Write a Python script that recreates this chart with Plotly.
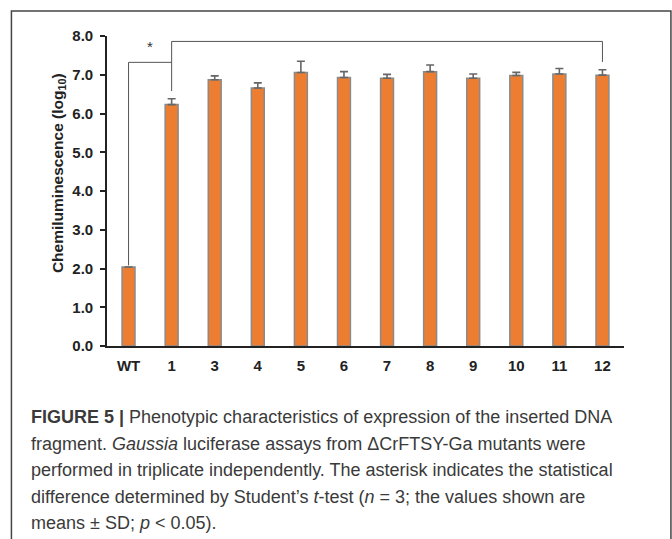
import plotly.graph_objects as go

# ---- data ----
categories = ["WT", "1", "3", "4", "5", "6", "7", "8", "9", "10", "11", "12"]
means = [2.04, 6.23, 6.87, 6.66, 7.06, 6.93, 6.91, 7.08, 6.91, 6.98, 7.02, 6.99]
sds = [0.0, 0.15, 0.10, 0.13, 0.29, 0.15, 0.10, 0.17, 0.11, 0.08, 0.14, 0.14]
y_ticks = [0, 1, 2, 3, 4, 5, 6, 7, 8]

# significance bracket levels (data units)
wt_bracket_low = 2.08
wt_bracket_top = 7.32
mut_bracket_low = 6.58
mut_bracket_top = 7.86
mut_bracket_end = 7.33
star_y = 7.72

caption_lines = [
    "<b>FIGURE 5 |</b> Phenotypic characteristics of expression of the inserted DNA",
    "fragment. <i>Gaussia</i> luciferase assays from \u0394CrFTSY-Ga mutants were",
    "performed in triplicate independently. The asterisk indicates the statistical",
    "difference determined by Student\u2019s <i>t</i>-test (<i>n</i> = 3; the values shown are",
    "means \u00b1 SD; <i>p</i> < 0.05).",
]

# ---- layout geometry (pixels) ----
FW, FH = 672, 539
L, R = 107, 623.6
T, B = 36, 345.7
PW, PH = R - L, B - T


def px(x):
    return (x - L) / PW


def py(y):
    return (B - y) / PH


i_wt, i_first, i_last = 0, 1, len(categories) - 1

fig = go.Figure()
fig.add_trace(go.Bar(
    x=categories, y=means,
    width=0.30,
    marker=dict(color="#ED7D31", line=dict(color="#8a8a8a", width=1.5)),
    error_y=dict(type="data", array=sds, arrayminus=[0] * len(sds), symmetric=False,
                 color="#666666", thickness=1.6, width=4),
    showlegend=False,
    hoverinfo="skip",
))

line_style = dict(color="#555555", width=1)
shapes = [
    dict(type="line", xref="x", yref="y", x0=i_wt, x1=i_wt,
         y0=wt_bracket_low, y1=wt_bracket_top, line=line_style),
    dict(type="line", xref="x", yref="y", x0=i_wt, x1=i_first,
         y0=wt_bracket_top, y1=wt_bracket_top, line=line_style),
    dict(type="line", xref="x", yref="y", x0=i_first, x1=i_first,
         y0=mut_bracket_low, y1=mut_bracket_top, line=line_style),
    dict(type="line", xref="x", yref="y", x0=i_first, x1=i_last,
         y0=mut_bracket_top, y1=mut_bracket_top, line=line_style),
    dict(type="line", xref="x", yref="y", x0=i_last, x1=i_last,
         y0=mut_bracket_top, y1=mut_bracket_end, line=line_style),
]

fx0, fx1, fy0, fy1 = px(11.5), px(670.5), py(11), py(545)
shapes.append(dict(
    type="path", xref="paper", yref="paper",
    path=f"M {fx0} {fy1} L {fx0} {fy0} L {fx1} {fy0} L {fx1} {fy1}",
    line=dict(color="#444444", width=1.5),
))

annotations = [
    dict(x=0.5, y=star_y, xref="x", yref="y", text="*", showarrow=False,
         font=dict(family="Liberation Sans", size=15, color="#333333")),
    dict(x=px(58), y=py(173), xref="paper", yref="paper", text="Chemiluminescence (log<sub>10</sub>)",
         textangle=-90, showarrow=False, xanchor="center", yanchor="middle",
         font=dict(family="Liberation Sans", size=15.5, color="#222222", weight="bold")),
]

cap_y = [417, 443.5, 470, 496.5, 523]
for txt, yy in zip(caption_lines, cap_y):
    annotations.append(dict(
        x=px(29), y=py(yy), xref="paper", yref="paper", text=txt, showarrow=False,
        xanchor="left", yanchor="middle", align="left",
        font=dict(family="Liberation Sans", size=18, color="#3a3a3a")))

fig.update_layout(
    width=FW, height=FH,
    margin=dict(l=L, r=FW - R, t=T, b=FH - B, pad=0),
    paper_bgcolor="white", plot_bgcolor="white",
    shapes=shapes, annotations=annotations,
    bargap=0.7,
    xaxis=dict(type="category", range=[-0.5, 11.5], showgrid=False, zeroline=False,
               showline=True, linecolor="#222222", linewidth=2, ticks="",
               ticklabelstandoff=5,
               tickfont=dict(family="Liberation Sans", size=15, color="#222222", weight="bold")),
    yaxis=dict(range=[0, 8], tickvals=y_ticks, tickformat=".1f", showgrid=False, zeroline=False,
               showline=True, linecolor="#222222", linewidth=1.6, ticks="outside", ticklen=5,
               tickwidth=1.5, tickcolor="#222222", ticklabelstandoff=4,
               tickfont=dict(family="Liberation Sans", size=15, color="#222222", weight="bold")),
)

fig.write_html("out.html", config={"displayModeBar": False},
               post_script="document.body.style.margin='0';document.body.style.padding='0';")
